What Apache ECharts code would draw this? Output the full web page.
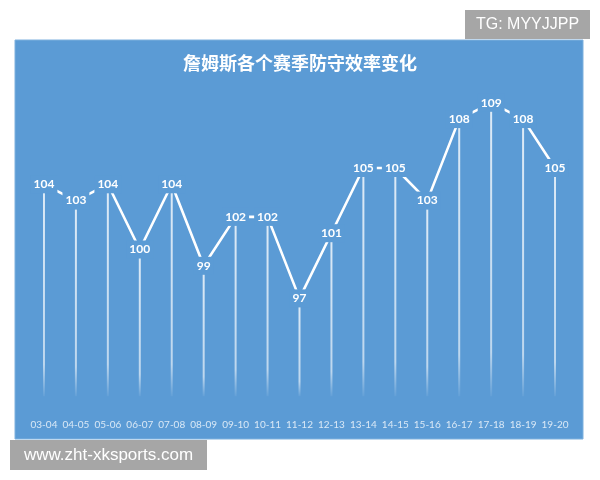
<!DOCTYPE html>
<html>
<head>
<meta charset="utf-8">
<script src="https://cdn.jsdelivr.net/npm/echarts@6/dist/echarts.min.js"></script>
<style>html,body{margin:0;padding:0;background:#fff;}#c{width:600px;height:480px;}</style>
</head>
<body>
<div id="c"></div>
<script>
const seasons = ['03-04','04-05','05-06','06-07','07-08','08-09','09-10','10-11','11-12','12-13','13-14','14-15','15-16','16-17','17-18','18-19','19-20'];
const defRating = [104,103,104,100,104,99,102,102,97,101,105,105,103,108,109,108,105];
const titleText = '詹姆斯各个赛季防守效率变化';
const tgText = 'TG: MYYJJPP';
const siteText = 'www.zht-xksports.com';

const panelBlue = '#5b9bd5';
const chart = echarts.init(document.getElementById('c'));
chart.setOption({
  animation: false,
  backgroundColor: '#ffffff',
  title: {
    text: titleText,
    left: 'center',
    top: 49,
    textStyle: {color: '#ffffff', fontSize: 18, fontWeight: 'bold', fontFamily: 'Noto Sans CJK SC'}
  },
  graphic: [
    {type: 'rect', z: 0, shape: {x: 15, y: 40, width: 568, height: 399},
     style: {fill: panelBlue, stroke: '#7fb1de', lineWidth: 1}},
    {type: 'rect', z: 100, shape: {x: 465, y: 10, width: 125, height: 29}, style: {fill: '#a6a6a6'}},
    {type: 'text', z: 101, x: 527.5, y: 25,
     style: {text: tgText, fill: '#ffffff', font: '16px "Liberation Sans", Arial, sans-serif', align: 'center', verticalAlign: 'middle'}},
    {type: 'rect', z: 100, shape: {x: 10, y: 440, width: 197, height: 30}, style: {fill: '#a6a6a6'}},
    {type: 'text', z: 101, x: 108.5, y: 455,
     style: {text: siteText, fill: '#ffffff', font: '17px "Liberation Sans", Arial, sans-serif', align: 'center', verticalAlign: 'middle'}}
  ],
  grid: {left: 28, right: 29, top: 86.5, bottom: 83.8},
  xAxis: {
    type: 'category',
    data: seasons,
    boundaryGap: true,
    axisLine: {show: false},
    axisTick: {show: false},
    axisLabel: {color: '#d9e8f6', fontSize: 10, margin: 24, fontFamily: 'Lato', interval: 0, hideOverlap: false}
  },
  yAxis: {
    type: 'value', min: 91, max: 110, show: false,
    splitLine: {show: false}
  },
  series: [
    {
      type: 'bar',
      z: 2,
      data: defRating,
      barWidth: 2,
      itemStyle: {
        color: new echarts.graphic.LinearGradient(0, 0, 0, 1, [
          {offset: 0, color: 'rgba(255,255,255,0.8)'},
          {offset: 0.85, color: 'rgba(255,255,255,0.6)'},
          {offset: 1, color: 'rgba(255,255,255,0.05)'}
        ])
      },
      silent: true
    },
    {
      type: 'line',
      z: 3,
      data: defRating,
      symbol: 'circle',
      symbolSize: 1,
      itemStyle: {color: '#ffffff'},
      lineStyle: {color: '#ffffff', width: 2.6},
      label: {
        show: true,
        position: 'inside',
        color: '#ffffff',
        fontSize: 12,
        fontWeight: 'bold',
        fontFamily: 'Lato',
        lineHeight: 14,
        backgroundColor: panelBlue,
        padding: [2, 3]
      }
    }
  ]
});
</script>
</body>
</html>
